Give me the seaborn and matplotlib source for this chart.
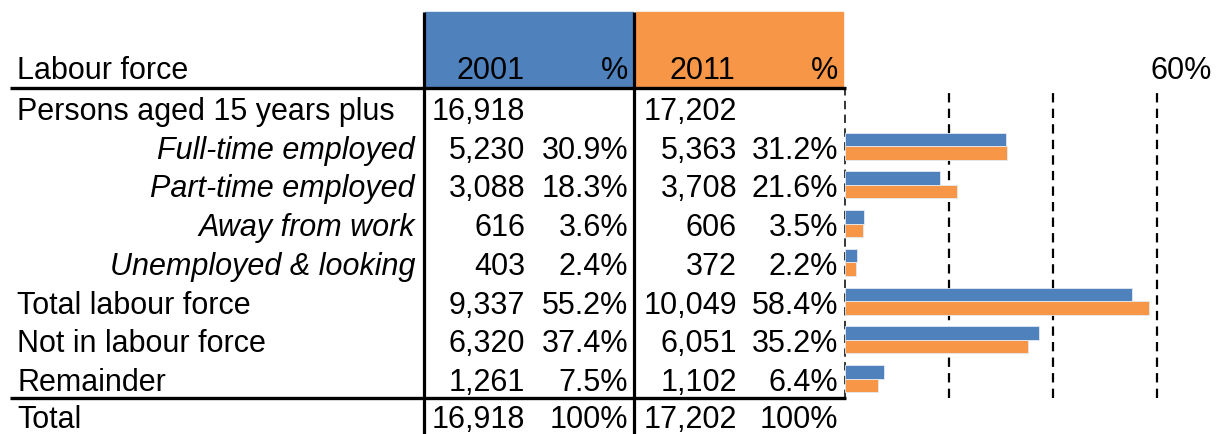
import numpy as np
import pandas as pd
import matplotlib
matplotlib.use("Agg")
import matplotlib.pyplot as plt
import seaborn as sns

sns.set_style("white")
plt.rcParams["font.family"] = ["Liberation Sans", "DejaVu Sans"]
plt.rcParams["text.color"] = "black"

# ----------------------------------------------------------------------
# DATA
# ----------------------------------------------------------------------
rows = ["Persons aged 15 years plus", "Full-time employed", "Part-time employed",
        "Away from work", "Unemployed & looking", "Total labour force",
        "Not in labour force", "Remainder", "Total"]
italic = [False, True, True, True, True, False, False, False, False]
n2001 = [16918, 5230, 3088, 616, 403, 9337, 6320, 1261, 16918]
p2001 = [None, 30.9, 18.3, 3.6, 2.4, 55.2, 37.4, 7.5, 100]
n2011 = [17202, 5363, 3708, 606, 372, 10049, 6051, 1102, 17202]
p2011 = [None, 31.2, 21.6, 3.5, 2.2, 58.4, 35.2, 6.4, 100]
years = ["2001", "2011"]
grid_pcts = [20, 40, 60]

BLUE = "#4F81BD"
ORANGE = "#F79646"
FS = 22

# ----------------------------------------------------------------------
# LAYOUT (pixel coordinates)
# ----------------------------------------------------------------------
W, H = 1217, 434
fig = plt.figure(figsize=(W / 100, H / 100), dpi=100)
ax = fig.add_axes([0, 0, 1, 1])
ax.set_xlim(0, W)
ax.set_ylim(H, 0)
ax.axis("off")

top_line, bot_line = 88, 398
pitch = (bot_line - top_line) / 8
x0_bar, x60_bar = 845, 1157

# header blocks
ax.add_patch(plt.Rectangle((425, 12), 208, 76, color=BLUE, zorder=1))
ax.add_patch(plt.Rectangle((636, 12), 207, 76, color=ORANGE, zorder=1))

# rules
ax.plot([10, 846], [top_line, top_line], color="black", lw=2.4, zorder=3, solid_capstyle="butt")
ax.plot([10, 846], [bot_line, bot_line], color="black", lw=2.4, zorder=3, solid_capstyle="butt")
ax.plot([423.5, 423.5], [12, H], color="black", lw=2.3, zorder=3, solid_capstyle="butt")
ax.plot([634, 634], [12, H], color="black", lw=2.3, zorder=3, solid_capstyle="butt")

# header text
hb = 79
ax.text(17, hb, "Labour force", fontsize=FS, va="baseline", ha="left")
ax.text(491, hb, years[0], fontsize=FS, va="baseline", ha="center")
ax.text(628, hb, "%", fontsize=FS, va="baseline", ha="right")
ax.text(702, hb, years[1], fontsize=FS, va="baseline", ha="center")
ax.text(838, hb, "%", fontsize=FS, va="baseline", ha="right")
ax.text(1150, hb, f"{grid_pcts[-1]}%", fontsize=FS, va="baseline", ha="left")


def fmt_pct(v):
    if v is None:
        return ""
    if v == 100:
        return "100%"
    return f"{v:.1f}%"


for i, name in enumerate(rows):
    if i < 8:
        yb = top_line + pitch * (i + 0.5) + 12.5
    else:
        yb = 427.5
    if italic[i]:
        ax.text(415, yb, name, fontsize=FS, style="italic", va="baseline", ha="right")
    else:
        ax.text(17, yb, name, fontsize=FS, va="baseline", ha="left")
    ax.text(525, yb, f"{n2001[i]:,}", fontsize=FS, va="baseline", ha="right")
    ax.text(628, yb, fmt_pct(p2001[i]), fontsize=FS, va="baseline", ha="right")
    ax.text(737, yb, f"{n2011[i]:,}", fontsize=FS, va="baseline", ha="right")
    ax.text(838, yb, fmt_pct(p2011[i]), fontsize=FS, va="baseline", ha="right")

# ----------------------------------------------------------------------
# BAR CHART
# ----------------------------------------------------------------------
bar_rows = rows[1:8]
df = pd.DataFrame({
    "row": bar_rows * 2,
    "year": [years[0]] * 7 + [years[1]] * 7,
    "pct": p2001[1:8] + p2011[1:8],
})

axb = fig.add_axes([x0_bar / W, (H - bot_line) / H, (x60_bar - x0_bar) / W, (bot_line - top_line) / H])
sns.barplot(data=df, x="pct", y="row", hue="year", palette=[BLUE, ORANGE], orient="h",
            width=0.7, saturation=1, ax=axb, legend=False, edgecolor="#e4eaf2",
            linewidth=0.6, zorder=3)
axb.set_xlim(0, grid_pcts[-1])
axb.set_ylim(6.5, -1.5)
for g in grid_pcts:
    axb.axvline(g, color="black", lw=1.6, ls=(0, (4.2, 2.8)), zorder=1, clip_on=False)
axb.axvline(0, color="black", lw=1.1, ls=(0, (5.5, 3.5)), zorder=1, clip_on=False)
axb.set_xticks([])
axb.set_yticks([])
axb.set_xlabel("")
axb.set_ylabel("")
axb.patch.set_alpha(0)
for s in axb.spines.values():
    s.set_visible(False)

fig.savefig("out.png", dpi=100)
